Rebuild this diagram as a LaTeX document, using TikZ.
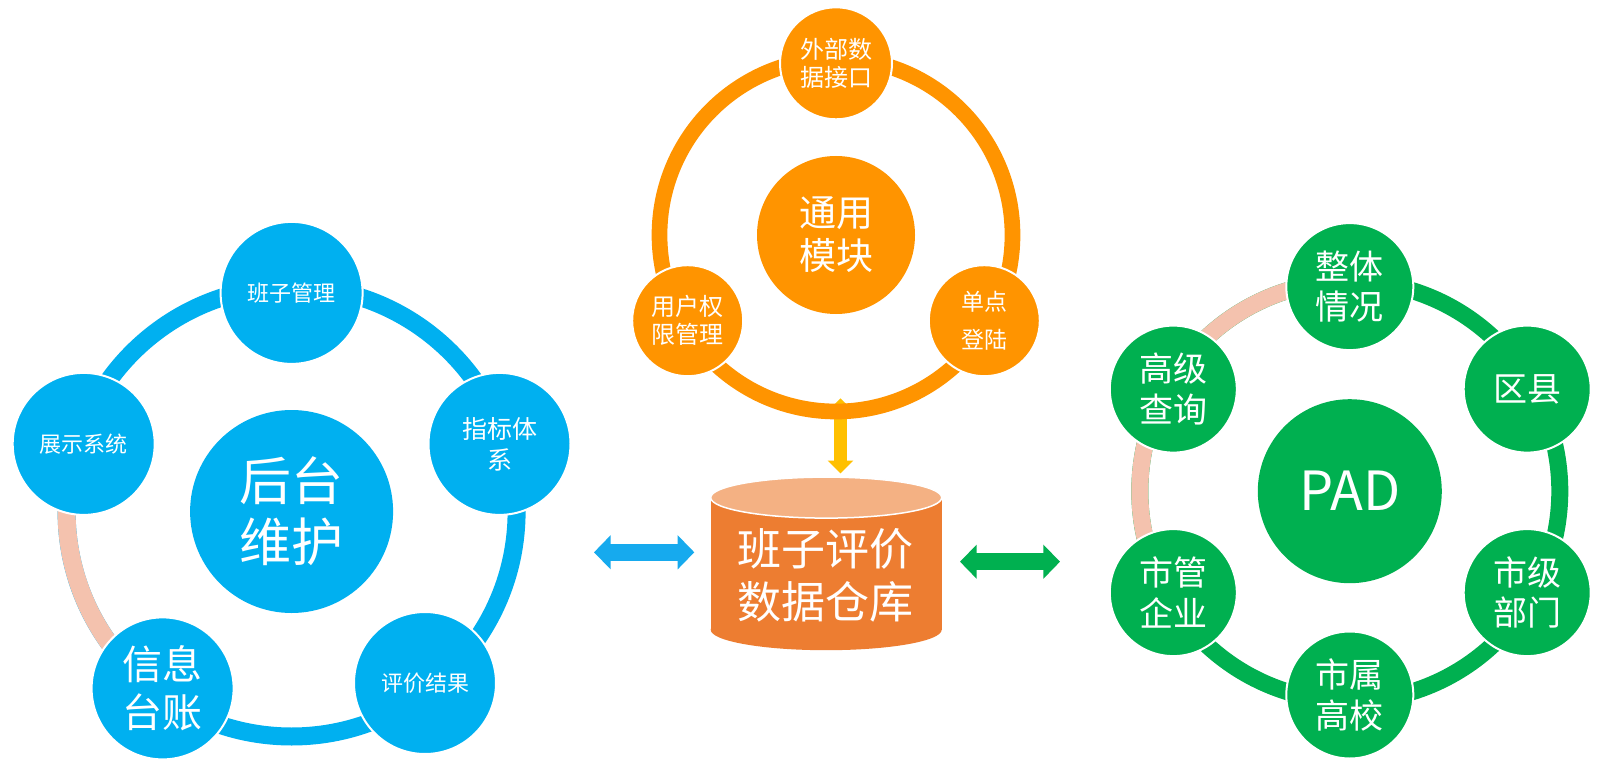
\documentclass[tikz,border=0pt]{standalone}
\usepackage{fontspec}
\setmainfont{Noto Sans CJK SC}
\usetikzlibrary{arrows.meta,shapes.geometric}
\definecolor{hubblue}{HTML}{00B0F0}
\definecolor{linkblue}{HTML}{16AAEE}
\definecolor{huborange}{HTML}{FF9400}
\definecolor{linkyellow}{HTML}{FFC000}
\definecolor{hubgreen}{HTML}{00B050}
\definecolor{ringpink}{HTML}{F4C2AE}
\definecolor{dbtop}{HTML}{F4B183}
\definecolor{dbbody}{HTML}{ED7D31}

\begin{document}
\begin{tikzpicture}[x=1pt, y=-1pt,
  hub/.style={circle, inner sep=0pt, align=center, text=white},
  sat/.style={circle, draw=white, line width=2pt, inner sep=0pt, align=center, text=white},
  ring/.style={circle, draw, line width=#1, inner sep=0pt},
  link/.style={line width=16.7pt, {Triangle[length=16.7pt,width=33.3pt]}-{Triangle[length=16.7pt,width=33.3pt]}}
]
  \path[use as bounding box, fill=white] (0,0) rectangle (1612,778);

  \node[ring=18pt, draw=hubblue, minimum size=450pt] (lring) at (291.6,511.5) {};
  \draw[ringpink, line width=18pt] (lring.center) ++(-162:225) arc[start angle=-162, end angle=-234, radius=225];

  \coordinate (ytop) at (840.5,398.3);
  \coordinate (ybot) at (840.5,473.3);
  \draw[linkyellow, line width=12.3pt, {Triangle[length=12.7pt,width=25pt]}-{Triangle[length=12.7pt,width=25pt]}] (ytop) -- (ybot);
  \node[ring=15.7pt, draw=huborange, minimum size=353pt] (oring) at (836,235) {};

  \node[ring=17pt, draw=hubgreen, minimum size=420pt] (gring) at (1349.8,491.2) {};
  \draw[ringpink, line width=17pt] (gring.center) ++(-90:210) arc[start angle=-90, end angle=-210, radius=210];

  \node[hub, fill=hubblue, minimum size=203pt, font=\fontsize{52}{61}\selectfont] (lhub) at (291.6,511.5) {后台\\维护};
  \node[sat, fill=hubblue, minimum size=142pt, font=\fontsize{22}{26}\selectfont] (lteam) at (291.6,292.9) {班子管理};
  \node[sat, fill=hubblue, minimum size=142pt, font=\fontsize{25}{31}\selectfont] (lindex) at (499.5,443.9) {指标体\\系};
  \node[sat, fill=hubblue, minimum size=142pt, font=\fontsize{22}{26}\selectfont] (lresult) at (425,683) {评价结果};
  \node[sat, fill=hubblue, minimum size=142pt, font=\fontsize{40}{48}\selectfont] (lledger) at (162.6,688.4) {信息\\台账};
  \node[sat, fill=hubblue, minimum size=142pt, font=\fontsize{22}{26}\selectfont] (lshow) at (83.7,443.9) {展示系统};

  \node[hub, fill=huborange, minimum size=158pt, font=\fontsize{37}{43}\selectfont] (ohub) at (836,235) {通用\\模块};
  \node[sat, fill=huborange, minimum size=112pt, font=\fontsize{24}{28}\selectfont] (oapi) at (836,63.3) {外部数\\据接口};
  \node[sat, fill=huborange, minimum size=111pt, font=\fontsize{24}{28}\selectfont] (oauth) at (687.7,320.7) {用户权\\限管理};
  \node[sat, fill=huborange, minimum size=111pt, font=\fontsize{23}{38}\selectfont] (osso) at (984.3,320.7) {单点\\登陆};

  \node[fill=dbbody, minimum width=231pt, minimum height=131.7pt, inner sep=0pt] (db) at (826.2,563.65) {};
  \fill[dbbody] (db.south) ellipse[x radius=115.5, y radius=20.5];
  \filldraw[fill=dbtop, draw=white, line width=1.5pt] (db.north) ellipse[x radius=115.5, y radius=20.5];
  \node[text=white, align=center, font=\fontsize{44}{53}\selectfont] (dbname) at (825.7,575) {班子评价\\数据仓库};

  \node[hub, fill=hubgreen, minimum size=184pt, font=\fontsize{54}{60}\selectfont] (ghub) at (1349.8,491.2) {PAD};
  \node[sat, fill=hubgreen, minimum size=127pt, font=\fontsize{34}{40.5}\selectfont] (gall) at (1349.8,286.6) {整体\\情况};
  \node[sat, fill=hubgreen, minimum size=127pt, font=\fontsize{34}{40.5}\selectfont] (gdist) at (1527.2,389.1) {区县};
  \node[sat, fill=hubgreen, minimum size=127pt, font=\fontsize{34}{40.5}\selectfont] (gdept) at (1527.2,592.6) {市级\\部门};
  \node[sat, fill=hubgreen, minimum size=127pt, font=\fontsize{34}{40.5}\selectfont] (gcoll) at (1349.8,695) {市属\\高校};
  \node[sat, fill=hubgreen, minimum size=127pt, font=\fontsize{34}{40.5}\selectfont] (gent) at (1173.3,592.6) {市管\\企业};
  \node[sat, fill=hubgreen, minimum size=127pt, font=\fontsize{34}{40.5}\selectfont] (gquery) at (1173.3,389.1) {高级\\查询};

  \coordinate (lwest) at (594,552.3);
  \coordinate (least) at (694.3,552.3);
  \coordinate (gwest) at (960,561.7);
  \coordinate (geast) at (1060,561.7);
  \draw[link, linkblue] (lwest) -- (least);
  \draw[link, hubgreen] (gwest) -- (geast);
\end{tikzpicture}
\end{document}
